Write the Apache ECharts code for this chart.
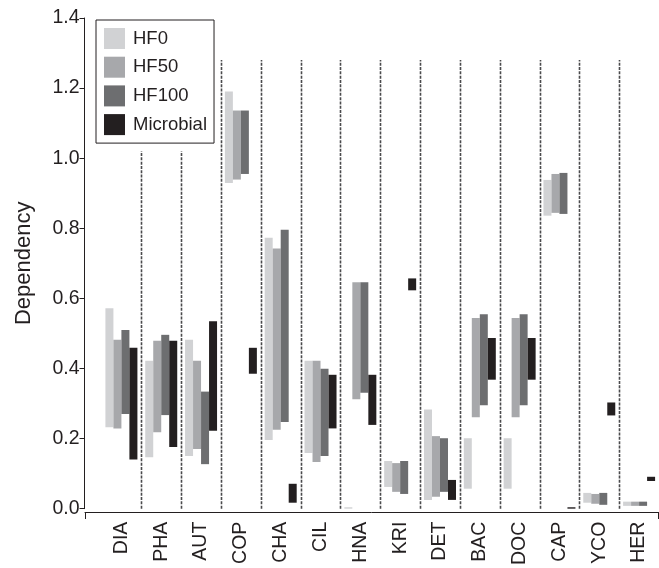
<!DOCTYPE html>
<html><head><meta charset="utf-8">
<script src="https://cdn.jsdelivr.net/npm/echarts@6/dist/echarts.min.js"></script>
<style>html,body{margin:0;padding:0;background:#fff}#c{width:659px;height:568px}</style>
</head><body><div id="c"></div>
<script>
const categories = ['DIA','PHA','AUT','COP','CHA','CIL','HNA','KRI','DET','BAC','DOC','CAP','YCO','HER'];
const seriesNames = ['HF0','HF50','HF100','Microbial'];
const yTicks = [0,0.2,0.4,0.6,0.8,1.0,1.2,1.4];
// low / high of each range bar
const hf0Low  = [0.232,0.147,0.150,0.929,0.196,0.159,0.000,0.062,0.025,0.057,0.057,0.836,0.017,0.008];
const hf0High = [0.572,0.422,0.482,1.190,0.773,0.422,0.004,0.136,0.283,0.201,0.201,0.938,0.045,0.020];
const hf50Low  = [0.229,0.218,0.170,0.939,0.225,0.133,0.312,0.048,0.034,0.261,0.261,0.844,0.014,0.008];
const hf50High = [0.482,0.479,0.422,1.136,0.742,0.422,0.646,0.130,0.207,0.544,0.544,0.955,0.042,0.020];
const hf100Low  = [0.270,0.267,0.127,0.955,0.247,0.150,0.331,0.042,0.048,0.295,0.295,0.841,0.011,0.008];
const hf100High = [0.510,0.496,0.334,1.136,0.796,0.399,0.646,0.136,0.201,0.555,0.555,0.958,0.045,0.020];
const micLow  = [0.140,0.176,0.222,0.385,0.017,0.229,0.239,0.623,0.025,0.368,0.368,0.000,0.266,0.079];
const micHigh = [0.459,0.479,0.535,0.459,0.071,0.382,0.382,0.657,0.082,0.487,0.487,0.004,0.303,0.091];
// dashed separators after each category (index) and their top value
const dividerIdx = [0,1,2,3,4,5,6,7,8,9,10,11,12];
const dividerTop = [1.02,1.02,1.28,1.28,1.28,1.28,1.28,1.28,1.28,1.28,1.28,1.28,1.28];

const colors = ['#d1d2d4','#a7a8ab','#6d6e70','#231f20'];
const lows = [hf0Low, hf50Low, hf100Low, micLow];
const highs = [hf0High, hf50High, hf100High, micHigh];
const FONT = 'Liberation Sans, Arial, Helvetica, sans-serif';

const series = [];
seriesNames.forEach((n, k) => {
  series.push({
    name: n + '_base', type: 'bar', stack: n, barWidth: 8, barGap: '0%',
    itemStyle: { color: 'transparent' }, silent: true,
    data: lows[k]
  });
  series.push({
    name: n, type: 'bar', stack: n, barWidth: 8, barGap: '0%',
    itemStyle: { color: colors[k] },
    data: highs[k].map((h, i) => +(h - lows[k][i]).toFixed(4))
  });
});
series.push({
  type: 'custom', xAxisIndex: 0, yAxisIndex: 0, silent: true, z: 1,
  data: dividerIdx.map((d, i) => [d, dividerTop[i]]),
  renderItem: function (params, api) {
    const p0 = api.coord([api.value(0), 0]);
    const p1 = api.coord([api.value(0), api.value(1)]);
    const w = api.size([1, 0])[0];
    const x = Math.round(p0[0] + w / 2) + 0.5;
    return { type: 'line', shape: { x1: x, y1: p0[1], x2: x, y2: p1[1] },
      style: { stroke: '#4a4a4c', lineWidth: 1.6, lineDash: [3, 1.3] } };
  }
});

const chart = echarts.init(document.getElementById('c'), null, { renderer: 'canvas' });
chart.setOption({
  animation: false,
  backgroundColor: '#fff',
  textStyle: { fontFamily: FONT },
  grid: [
    { left: 101.5, right: -5, top: 18, bottom: 56 },
    { left: 85, right: 1, top: 18, bottom: 56 }
  ],
  legend: {
    data: seriesNames, orient: 'vertical', left: 96, top: 20,
    itemWidth: 21, itemHeight: 21, itemGap: 7.7,
    padding: [8, 7, 8, 8],
    backgroundColor: '#fff', borderColor: '#231f20', borderWidth: 1,
    icon: 'rect',
    textStyle: { fontSize: 18.5, color: '#231f20', fontFamily: FONT, padding: [0, 0, 0, 3] }
  },
  xAxis: [
    { type: 'category', gridIndex: 0, data: categories,
      axisLine: { show: false }, axisTick: { show: false },
      axisLabel: { rotate: 90, fontSize: 19.5, color: '#231f20', margin: 13, fontFamily: FONT, interval: 0 } },
    { type: 'value', gridIndex: 1, min: 0, max: 1, interval: 1, offset: 5,
      axisLine: { show: true, lineStyle: { color: '#231f20', width: 1 } },
      axisTick: { show: true, length: 7, lineStyle: { color: '#231f20' } },
      axisLabel: { show: false }, splitLine: { show: false } }
  ],
  yAxis: [
    { type: 'value', gridIndex: 0, min: 0, max: 1.4, interval: 0.2, offset: 17,
      name: 'Dependency', nameLocation: 'middle', nameGap: 50, nameRotate: 90,
      nameTextStyle: { fontSize: 22, color: '#231f20', fontFamily: FONT },
      axisLine: { show: true, lineStyle: { color: '#231f20', width: 1 } },
      axisTick: { show: true, length: 5, lineStyle: { color: '#231f20' } },
      axisLabel: { fontSize: 19.5, color: '#231f20', margin: 5, fontFamily: FONT,
        formatter: v => yTicks.includes(+v.toFixed(1)) ? v.toFixed(1) : '' },
      splitLine: { show: false } },
    { type: 'value', gridIndex: 1, min: 0, max: 1, show: false }
  ],
  series: series
});
</script></body></html>
